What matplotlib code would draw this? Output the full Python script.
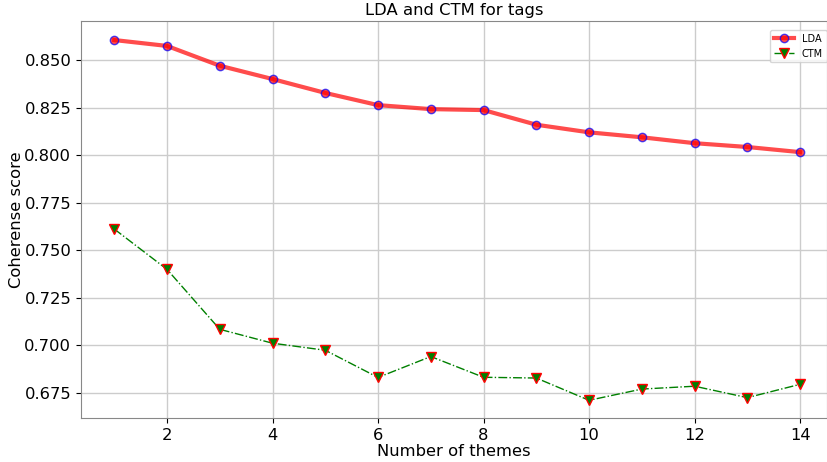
import numpy as np
import matplotlib
matplotlib.use("Agg")
import matplotlib.pyplot as plt

themes = np.arange(1, 15)
lda = [0.8605, 0.8574, 0.8470, 0.8400, 0.8327, 0.8263, 0.8242, 0.8237,
       0.8160, 0.8120, 0.8094, 0.8063, 0.8043, 0.8016]
ctm = [0.7612, 0.7400, 0.7085, 0.7012, 0.6975, 0.6832, 0.6942, 0.6833,
       0.6829, 0.6712, 0.6771, 0.6786, 0.6726, 0.6796]

fig = plt.figure(figsize=(8.28, 4.62), dpi=100)
ax = fig.add_axes([81/828, 1-418/462, 746/828, 397/462])

ax.plot(themes, lda, color="red", alpha=0.7, lw=3, marker="o",
        markerfacecolor="red", markeredgecolor="blue", markersize=6, label="LDA")
ax.plot(themes, ctm, color="green", ls="-.", lw=1, marker="v",
        markerfacecolor="green", markeredgecolor="red", markersize=7, label="CTM")

ax.set_xlim(0.37, 14.51)
ax.set_ylim(0.6619, 0.8705)
ax.set_xticks([2, 4, 6, 8, 10, 12, 14])
ax.set_yticks(np.arange(0.675, 0.851, 0.025))
ax.yaxis.set_major_formatter(matplotlib.ticker.FormatStrFormatter("%.3f"))
ax.tick_params(labelsize=11.8)
ax.grid(True, color="#cccccc", lw=1)
for s in ax.spines.values():
    s.set_color("#888888")

ax.set_title("LDA and CTM for tags", fontsize=11.8, pad=4)
ax.set_xlabel("Number of themes", fontsize=11.8, labelpad=1)
ax.set_ylabel("Coherense score", fontsize=11.8, labelpad=0)
ax.legend(fontsize=7, loc="upper right", bbox_to_anchor=(1.006, 0.99))

fig.savefig("out.png", dpi=100)
